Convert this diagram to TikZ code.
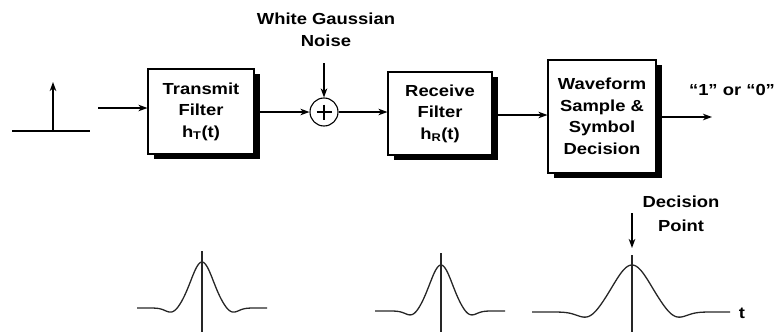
\documentclass[tikz,border=0pt]{standalone}
\usepackage{fontspec}
\setmainfont{Liberation Sans}[FakeStretch=1.15]
\usetikzlibrary{arrows.meta}
\begin{document}
\begin{tikzpicture}[x=1pt,y=-1pt,
  every node/.style={font=\fontsize{16}{21.5}\selectfont\bfseries},
  blk/.style={draw, line width=1.1pt, fill=white, align=center, inner sep=0pt,
    preaction={draw=none, fill=black, transform canvas={shift={(5.5pt,-5pt)}}}},
  arr/.style={line width=1.2pt, -{Stealth[length=9pt,width=6.5pt,inset=2.5pt]}},
  ln/.style={line width=1.2pt},
  pulse/.style={line width=1.3pt, black!85},
  vline/.style={line width=1.1pt, black!85},
]
\useasboundingbox (0,0) rectangle (780,332);

% blocks
\node[blk, minimum width=106pt, minimum height=85pt] (tx) at (201,111.5) {Transmit\\Filter\\h\textsubscript{T}(t)};
\node[blk, minimum width=104pt, minimum height=83pt] (rx) at (440,113.5) {Receive\\Filter\\h\textsubscript{R}(t)};
\node[blk, minimum width=108pt, minimum height=113pt] (wf) at (602,116.5) {Waveform\\Sample \&\\Symbol\\Decision};
\node[draw, circle, line width=1.1pt, minimum size=28pt, inner sep=0pt] (add) at (324,112) {};
\draw[line width=1.1pt] (add.center) ++(-7.5,0) -- ++(15,0);
\draw[line width=1.1pt] (add.center) ++(0,-7.5) -- ++(0,15);

% impulse
\coordinate (i0) at (12,131);
\coordinate (i1) at (90,131);
\coordinate (ib) at (53,131);
\coordinate (it) at (53,82);
\draw[ln] (i0) -- (i1);
\draw[arr] (ib) -- (it);

% connectors
\coordinate (in) at (98,108);
\draw[arr] (in) -- (in -| tx.west);
\draw[arr] (tx.east |- add) -- (add.west);
\coordinate (ns) at (324,63);
\draw[arr] (ns) -- (add.north);
\draw[arr] (add.east) -- (add.east -| rx.west);
\draw[arr] ([yshift=-1.5pt]rx.east) -- ([yshift=-1.5pt]rx.east -| wf.west);
\coordinate (out) at (712,117);
\draw[arr] (wf.east |- out) -- (out);

% labels
\node[align=center] (noise) at (326,30) {White Gaussian\\Noise};
\node[anchor=base] (q) at (732,95) {“1” or “0”};
\node[align=center, font=\fontsize{16}{23.5}\selectfont\bfseries] (dp) at (681,214) {Decision\\Point};
\node[anchor=base] (t) at (742,318) {t};

% decision arrow
\coordinate (d0) at (632,213);
\coordinate (d1) at (632,248);
\draw[arr] (d0) -- (d1);

% pulses
\draw[pulse] plot[domain=-65:65, samples=131, smooth] ({\x+202},{308 - 46*exp(-\x*\x/242) + 5*exp(-(abs(\x)-30)*(abs(\x)-30)/80)});
\draw[pulse] plot[domain=-66:64, samples=131, smooth] ({\x+441},{311 - 46*exp(-\x*\x/242) + 5*exp(-(abs(\x)-29)*(abs(\x)-29)/80)});
\draw[pulse] plot[domain=-100:98, samples=199, smooth] ({\x+632},{312 - 47*exp(-\x*\x/648) + 7*exp(-(abs(\x)-44)*(abs(\x)-44)/200)});

% pulse axes
\coordinate (a1t) at (202,251); \coordinate (a1b) at (202,332);
\coordinate (a2t) at (441,253); \coordinate (a2b) at (441,332);
\coordinate (a3t) at (632,255); \coordinate (a3b) at (632,332);
\draw[vline] (a1t) -- (a1b);
\draw[vline] (a2t) -- (a2b);
\draw[vline] (a3t) -- (a3b);
\end{tikzpicture}
\end{document}
